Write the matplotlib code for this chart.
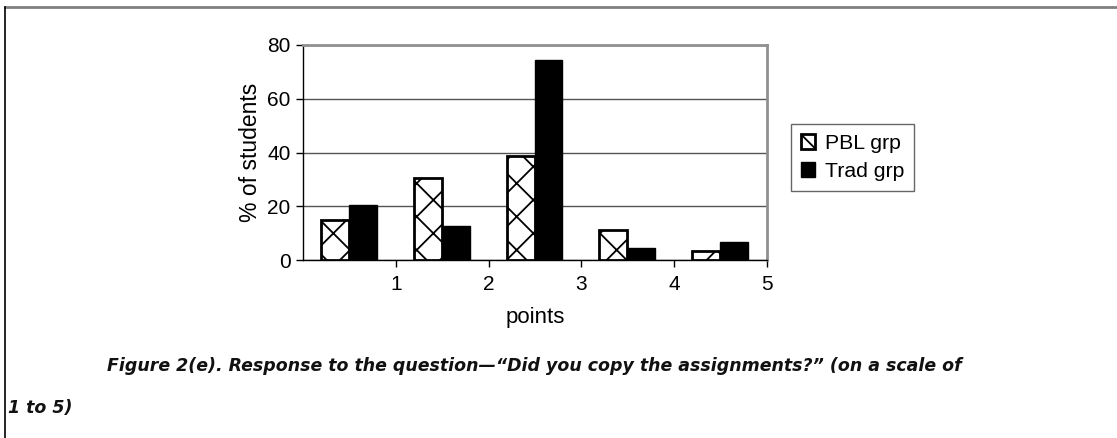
import matplotlib
matplotlib.use("Agg")
import matplotlib.pyplot as plt
from matplotlib.lines import Line2D
import numpy as np

# --- DATA ---
points = [1, 2, 3, 4, 5]
pbl_grp = [14.7, 30.5, 38.6, 11.2, 3.5]
trad_grp = [20.6, 12.7, 74.6, 4.5, 6.8]
y_ticks = [0, 20, 40, 60, 80]
caption_1 = "Figure 2(e). Response to the question\u2014\u201cDid you copy the assignments?\u201d (on a scale of"
caption_2 = "1 to 5)"

plt.rcParams["font.family"] = ["Liberation Sans", "DejaVu Sans"]
plt.rcParams["hatch.linewidth"] = 1.3

fig = plt.figure(figsize=(11.17, 4.38), dpi=100)
ax = fig.add_axes([303 / 1117, 1 - 260 / 438, 464 / 1117, 215 / 438])

centers = np.array(points) - 0.5
w = 0.3
ax.bar(centers - w / 2 - 0.005, pbl_grp, width=w, facecolor="white", edgecolor="black",
       hatch="x", linewidth=2, label="PBL grp", zorder=3)
ax.bar(centers + w / 2 - 0.005, trad_grp, width=w, facecolor="black", edgecolor="black",
       linewidth=1, label="Trad grp", zorder=3)

ax.set_xlim(0, 5)
ax.set_ylim(0, 80)
ax.set_xticks(points)
ax.set_xticklabels([str(p) for p in points])
ax.set_yticks(y_ticks)
ax.tick_params(axis="both", labelsize=15, direction="out", length=5, width=1)
ax.tick_params(axis="x", pad=6)
ax.tick_params(axis="y", pad=4)
ax.yaxis.grid(True, color="#555555", linewidth=1, zorder=0)
ax.set_axisbelow(True)

for s in ["top", "right"]:
    ax.spines[s].set_color("#909090")
    ax.spines[s].set_linewidth(2)
for s in ["left", "bottom"]:
    ax.spines[s].set_color("black")
    ax.spines[s].set_linewidth(1)

ax.set_xlabel("points", fontsize=16, labelpad=9)
ax.set_ylabel("% of students", fontsize=16.5, labelpad=4)

leg = ax.legend(loc="upper left", bbox_to_anchor=(791 / 1117, 1 - 124 / 438),
                bbox_transform=fig.transFigure, fontsize=15.3, frameon=True,
                fancybox=False, edgecolor="#404040", handlelength=0.7,
                handleheight=0.7, handletextpad=0.45, borderpad=0.45, labelspacing=0.45,
                borderaxespad=0)
leg.get_frame().set_linewidth(1)

# captions
cap_font = dict(fontsize=12.5, fontweight="bold", fontstyle="italic",
                family=["DejaVu Sans"], va="center", ha="left", color="#111111")
fig.text(107 / 1117, 1 - 366 / 438, caption_1, **cap_font)
fig.text(8 / 1117, 1 - 408 / 438, caption_2, **cap_font)

# page frame (top grey, left black)
fig.add_artist(Line2D([5 / 1117, 1], [1 - 6.5 / 438, 1 - 6.5 / 438],
                      transform=fig.transFigure, color="#808080", linewidth=2))
fig.add_artist(Line2D([5 / 1117, 5 / 1117], [0, 1 - 6.5 / 438],
                      transform=fig.transFigure, color="black", linewidth=1.2))

fig.savefig("out.png", dpi=100)
